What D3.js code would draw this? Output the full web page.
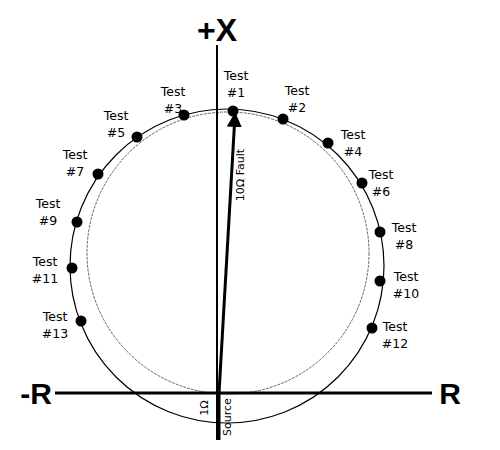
<!DOCTYPE html><html><head><script src="https://cdn.jsdelivr.net/npm/d3@7"></script>
<style>body{margin:0;background:#fff}</style></head><body><svg id="c" width="500" height="450"></svg><script>
const tests=["Test #1","Test #2","Test #3","Test #4","Test #5","Test #6","Test #7","Test #8","Test #9","Test #10","Test #11","Test #12","Test #13"];
const ptR=[14,64,-35,109,-82,143,-121,161,-142,161,-147,153,-138];
const ptX=[282,274,278,250,256,210,219,161,171,112,125,65,72];
const labR=[17,78,-46,134,-103,162,-144,185,-171,187,-174,176,-164];
const labX=[313,298,297,254,273,214,234,161,185,112,127,62,72];
const outer={r:8,x:127,rad:157}, inner={r:9,x:140,rad:141};
const fault={r:16,x:278};
const svg=d3.select("#c");
const sx=d3.scaleLinear().domain([0,100]).range([219,319]);
const sy=d3.scaleLinear().domain([0,100]).range([393,293]);
const k=sx(1)-sx(0);
svg.append("circle").attr("cx",sx(outer.r)).attr("cy",sy(outer.x)).attr("r",outer.rad*k).attr("fill","none").attr("stroke","#000").attr("stroke-width",1.2);
svg.append("circle").attr("cx",sx(inner.r)).attr("cy",sy(inner.x)).attr("r",inner.rad*k).attr("fill","none").attr("stroke","#000").attr("stroke-width",0.6).attr("stroke-dasharray","3,1");
svg.append("line").attr("x1",sx(-164)).attr("x2",sx(213)).attr("y1",sy(0)).attr("y2",sy(0)).attr("stroke","#000").attr("stroke-width",3);
svg.append("line").attr("x1",sx(-2)).attr("x2",sx(-2)).attr("y1",sy(348)).attr("y2",sy(-47)).attr("stroke","#000").attr("stroke-width",2);
svg.append("line").attr("x1",sx(0)).attr("x2",sx(0)).attr("y1",sy(0)).attr("y2",sy(-47)).attr("stroke","#000").attr("stroke-width",3);
svg.append("defs").append("marker").attr("id","ah").attr("viewBox","0 0 10 10").attr("refX",8).attr("refY",5).attr("markerWidth",5).attr("markerHeight",6).attr("orient","auto").attr("markerUnits","strokeWidth")
 .append("path").attr("d","M0,0L10,5L0,10z").attr("fill","#000");
svg.append("line").attr("x1",sx(0)).attr("y1",sy(0)).attr("x2",sx(fault.r)).attr("y2",sy(fault.x)).attr("stroke","#000").attr("stroke-width",3).attr("marker-end","url(#ah)");
svg.selectAll(".pt").data(ptR).join("circle").attr("cx",d=>sx(d)).attr("cy",(d,i)=>sy(ptX[i])).attr("r",5.5).attr("fill","#000");
const f="'DejaVu Sans',sans-serif";
tests.forEach((t,i)=>{const [a,b]=t.split(" ");
 const g=svg.append("text").attr("x",sx(labR[i])).attr("y",sy(labX[i])).attr("text-anchor","middle").attr("font-family",f).attr("font-size",12.5);
 g.append("tspan").attr("x",sx(labR[i])).text(a);
 g.append("tspan").attr("x",sx(labR[i])).attr("dy",17).text(b);});
svg.append("text").attr("x",sx(-2)).attr("y",sy(352)).attr("text-anchor","middle").attr("font-family","'Liberation Sans',sans-serif").attr("font-weight","bold").attr("font-size",32).text("+X");
svg.append("text").attr("x",sx(-183)).attr("y",sy(-11)).attr("text-anchor","middle").attr("font-family","'Liberation Sans',sans-serif").attr("font-weight","bold").attr("font-size",30).text("-R");
svg.append("text").attr("x",sx(231)).attr("y",sy(-11)).attr("text-anchor","middle").attr("font-family","'Liberation Sans',sans-serif").attr("font-weight","bold").attr("font-size",30).text("R");
svg.append("text").attr("transform",`translate(${sx(25)},${sy(218)}) rotate(-90)`).attr("text-anchor","middle").attr("font-family",f).attr("font-size",11).text("10Ω Fault");
svg.append("text").attr("transform",`translate(${sx(-11)},${sy(-15)}) rotate(-90)`).attr("text-anchor","middle").attr("font-family",f).attr("font-size",11).text("1Ω");
svg.append("text").attr("transform",`translate(${sx(12)},${sy(-24)}) rotate(-90)`).attr("text-anchor","middle").attr("font-family",f).attr("font-size",11).text("Source");
</script></body></html>
